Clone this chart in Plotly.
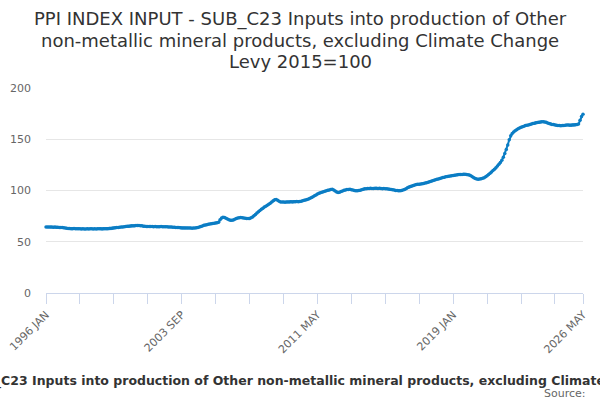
import plotly.graph_objects as go

MONTHS = ["JAN", "FEB", "MAR", "APR", "MAY", "JUN", "JUL", "AUG", "SEP", "OCT", "NOV", "DEC"]

# monthly index values, 1996 JAN .. 2026 MAY
values_by_year = {
    1996: [64.5, 64.4, 64.4, 64.3, 64.3, 64.2, 64.3, 64.2, 64.1, 64.0, 63.9, 63.8],
    1997: [63.6, 63.4, 63.2, 63.0, 62.9, 62.8, 62.8, 62.9, 62.7, 62.6, 62.7, 62.6],
    1998: [62.5, 62.6, 62.5, 62.4, 62.6, 62.5, 62.7, 62.6, 62.5, 62.6, 62.5, 62.6],
    1999: [62.7, 62.6, 62.5, 62.6, 62.7, 62.8, 62.7, 62.9, 63.0, 63.2, 63.4, 63.6],
    2000: [63.8, 64.0, 64.2, 64.3, 64.5, 64.6, 64.8, 65.0, 65.2, 65.4, 65.5, 65.6],
    2001: [65.7, 65.8, 65.9, 65.8, 65.7, 65.5, 65.2, 65.0, 64.9, 64.8, 64.9, 64.8],
    2002: [64.8, 64.7, 64.8, 64.7, 64.6, 64.7, 64.8, 64.7, 64.6, 64.7, 64.6, 64.5],
    2003: [64.4, 64.3, 64.2, 64.1, 64.0, 63.9, 63.8, 63.6, 63.5, 63.4, 63.3, 63.4],
    2004: [63.3, 63.4, 63.3, 63.2, 63.3, 63.4, 63.6, 63.9, 64.3, 64.8, 65.4, 66.0],
    2005: [66.4, 66.7, 67.0, 67.3, 67.5, 67.7, 68.0, 68.3, 68.6, 69.0, 71.5, 73.2],
    2006: [73.8, 73.6, 73.0, 72.2, 71.4, 70.9, 71.0, 71.3, 71.9, 72.6, 73.2, 73.5],
    2007: [73.6, 73.4, 73.2, 73.0, 72.8, 72.7, 72.8, 73.3, 74.2, 75.4, 76.7, 78.0],
    2008: [79.2, 80.4, 81.6, 82.8, 83.8, 84.7, 85.6, 86.6, 87.6, 88.7, 90.0, 91.0],
    2009: [91.2, 90.5, 89.6, 88.9, 88.7, 88.8, 88.6, 88.7, 88.9, 88.8, 89.0, 88.9],
    2010: [89.1, 89.0, 89.2, 89.1, 89.3, 89.6, 90.0, 90.4, 90.8, 91.3, 91.8, 92.4],
    2011: [93.1, 93.9, 94.8, 95.7, 96.5, 97.2, 97.8, 98.3, 98.8, 99.3, 99.8, 100.2],
    2012: [100.6, 100.9, 101.1, 100.6, 99.6, 98.6, 98.1, 98.4, 99.0, 99.6, 100.2, 100.6],
    2013: [100.9, 101.0, 101.1, 100.8, 100.4, 100.0, 99.8, 99.7, 99.9, 100.3, 100.8, 101.3],
    2014: [101.6, 101.8, 102.0, 101.9, 102.1, 102.0, 101.9, 102.1, 102.2, 102.0, 102.1, 101.9],
    2015: [101.8, 102.0, 101.7, 101.6, 101.5, 101.3, 101.0, 100.7, 100.4, 100.1, 99.9, 99.8],
    2016: [99.8, 100.0, 100.4, 101.0, 101.8, 102.6, 103.3, 103.9, 104.4, 104.8, 105.3, 105.8],
    2017: [106.1, 106.0, 106.3, 106.7, 106.9, 107.3, 107.6, 108.0, 108.5, 109.0, 109.6, 110.1],
    2018: [110.5, 110.9, 111.3, 111.8, 112.2, 112.6, 113.0, 113.3, 113.6, 114.0, 114.2, 114.5],
    2019: [114.7, 114.9, 115.1, 115.3, 115.5, 115.6, 115.7, 115.9, 115.8, 115.6, 115.4, 115.0],
    2020: [114.3, 113.4, 112.4, 111.6, 111.2, 111.0, 111.1, 111.4, 111.9, 112.5, 113.3, 114.4],
    2021: [115.6, 116.8, 118.0, 119.4, 120.8, 122.3, 123.9, 125.6, 127.4, 129.6, 132.5, 136.0],
    2022: [140.0, 144.5, 149.5, 153.5, 155.5, 157.0, 158.4, 159.3, 160.2, 161.0, 161.8, 162.3],
    2023: [162.8, 163.3, 163.6, 164.0, 164.5, 164.9, 165.3, 165.6, 166.0, 166.3, 166.5, 166.8],
    2024: [167.0, 167.1, 166.9, 166.5, 165.9, 165.3, 164.8, 164.5, 164.3, 164.0, 163.7, 163.5],
    2025: [163.3, 163.2, 163.3, 163.4, 163.6, 163.8, 163.9, 163.7, 163.6, 163.8, 164.0, 164.1],
    2026: [164.3, 164.8, 168.5, 172.2, 174.5],
}

labels = []
values = []
for year, vals in values_by_year.items():
    for m, v in enumerate(vals):
        labels.append(f"{year} {MONTHS[m]}")
        values.append(v)

# ticks every 23 months, labelled every 4th tick, plus the last month
tick_idx = list(range(0, len(labels), 23)) + [len(labels) - 1]
tick_vals = [labels[i] for i in tick_idx]
tick_text = [labels[i] if (i % 92 == 0 or i == len(labels) - 1) else "" for i in tick_idx]

title_lines = [
    "PPI INDEX INPUT - SUB_C23 Inputs into production of Other",
    "non-metallic mineral products, excluding Climate Change",
    "Levy 2015=100",
]
caption = ("PPI INDEX INPUT - SUB_C23 Inputs into production of Other non-metallic "
           "mineral products, excluding Climate Change Levy 2015=100")

fig = go.Figure()
fig.add_trace(go.Scatter(
    x=labels, y=values, mode="lines+markers",
    line=dict(color="#0b7dc4", width=2),
    marker=dict(color="#0b7dc4", size=3.5),
    cliponaxis=False,
    hoverinfo="x+y",
))

# plot area: x 46..583, y 88..293 px
annotations = []
for k, line in enumerate(title_lines):
    annotations.append(dict(
        text=line, xref="paper", yref="paper",
        x=0.473, y=(293 - (19 + 21 * k)) / 205, xanchor="center", yanchor="middle",
        showarrow=False, font=dict(size=18, color="#333333")))
annotations.append(dict(
    text="<b>" + caption + "</b>", xref="paper", yref="paper",
    x=0.481, y=(293 - 381) / 205, xanchor="center", yanchor="middle",
    showarrow=False, font=dict(size=12.5, color="#333333")))
annotations.append(dict(
    text="Source:", xref="paper", yref="paper",
    x=1.01, y=(293 - 393) / 205, xanchor="right", yanchor="middle",
    showarrow=False, font=dict(size=11, color="#666666")))

fig.update_layout(
    width=600, height=400,
    margin=dict(l=46, r=17, t=88, b=107, autoexpand=False),
    paper_bgcolor="white", plot_bgcolor="white",
    font=dict(family="DejaVu Sans", color="#666666", size=11),
    showlegend=False,
    annotations=annotations,
)

fig.update_xaxes(
    type="category", range=[0, len(labels) - 1], automargin=False,
    tickmode="array", tickvals=tick_vals, ticktext=tick_text,
    tickangle=-45, ticks="outside", ticklen=10, tickcolor="#ccd6eb",
    showline=True, linecolor="#ccd6eb", linewidth=1,
    showgrid=False, zeroline=False,
    tickfont=dict(size=11, color="#666666"),
)
fig.update_yaxes(
    range=[0, 200], tickvals=[0, 50, 100, 150, 200], automargin=False,
    showgrid=True, gridcolor="#e6e6e6", gridwidth=1,
    zeroline=False, showline=False, ticks="",
    ticklabelstandoff=14,
    tickfont=dict(size=11, color="#666666"),
)

fig.write_html("out.html", config={"displayModeBar": False},
               post_script="document.body.style.margin = '0';")
